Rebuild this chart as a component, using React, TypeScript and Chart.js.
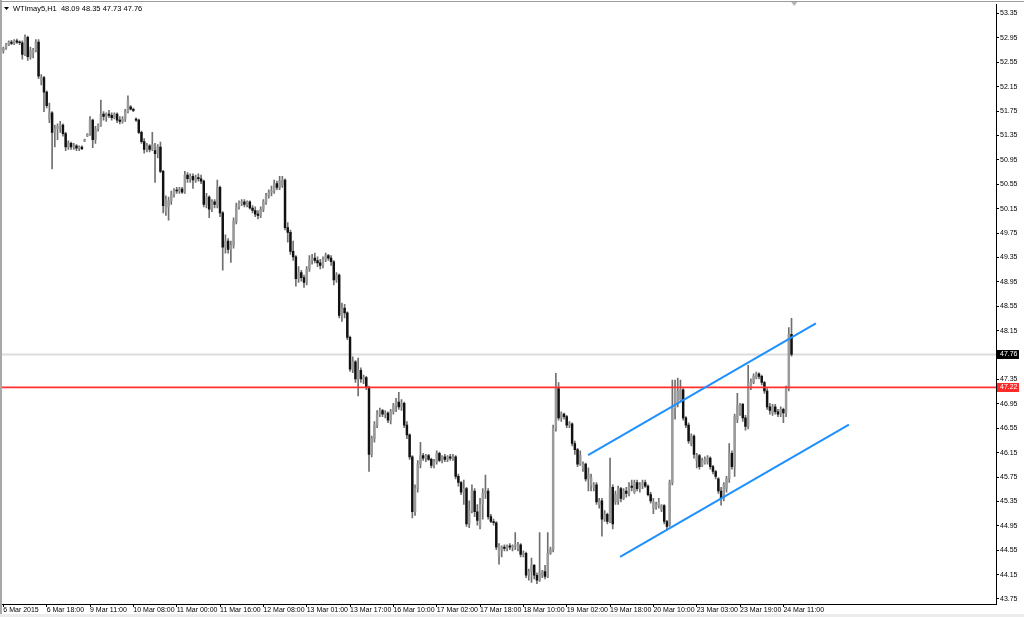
import React, { useEffect, useRef } from "react";
import { Chart, registerables } from "chart.js";

Chart.register(...registerables);

// ---------------- data ----------------
const SYMBOL = "WTImay5,H1";

const TIME_LABELS = [
  "6 Mar 2015", "6 Mar 18:00", "9 Mar 11:00", "10 Mar 08:00", "11 Mar 00:00",
  "11 Mar 16:00", "12 Mar 08:00", "13 Mar 01:00", "13 Mar 17:00", "16 Mar 10:00",
  "17 Mar 02:00", "17 Mar 18:00", "18 Mar 10:00", "19 Mar 02:00", "19 Mar 18:00",
  "20 Mar 10:00", "23 Mar 03:00", "23 Mar 19:00", "24 Mar 11:00",
];
const BARS_PER_LABEL = 16;
const SLOT_COUNT = 367;

const PRICE_TICKS = [
  43.75, 44.15, 44.55, 44.95, 45.35, 45.75, 46.15, 46.55, 46.95, 47.35, 47.75, 48.15, 48.55,
  48.95, 49.35, 49.75, 50.15, 50.55, 50.95, 51.35, 51.75, 52.15, 52.55, 52.95, 53.35,
];
const PRICE_MIN = 43.668;
const PRICE_MAX = 53.497;

const BID_PRICE = 47.76;
const LEVEL_PRICE = 47.22;

const CHANNEL_UPPER = [
  { x: 215.9, y: 46.11 },
  { x: 300.0, y: 48.27 },
];
const CHANNEL_LOWER = [
  { x: 227.7, y: 44.44 },
  { x: 312.2, y: 46.61 },
];

const OPEN = [
  52.74, 52.78, 52.84, 52.88, 52.86, 52.90, 52.88, 52.87, 52.68, 52.96, 52.64, 52.70, 52.75, 52.88, 52.25, 52.30,
  52.06, 51.62, 51.72, 51.40, 51.46, 51.50, 51.52, 51.38, 51.16, 51.22, 51.16, 51.18, 51.14, 51.16, 51.26, 51.34,
  51.37, 51.60, 51.28, 51.46, 51.52, 51.70, 51.66, 51.70, 51.68, 51.64, 51.70, 51.60, 51.58, 51.62, 51.74, 51.82,
  51.78, 51.62, 51.60, 51.40, 51.25, 51.12, 51.18, 51.12, 51.10, 51.05, 51.16, 50.76, 50.10, 50.18, 50.28, 50.38,
  50.45, 50.44, 50.47, 50.42, 50.70, 50.64, 50.68, 50.62, 50.66, 50.64, 50.60, 50.22, 50.34, 50.14, 50.26, 50.20,
  50.50, 50.08, 49.52, 49.62, 49.48, 49.55, 49.94, 50.18, 50.24, 50.26, 50.22, 50.26, 50.16, 50.12, 50.06, 50.04,
  50.14, 50.26, 50.36, 50.42, 50.44, 50.56, 50.50, 50.54, 50.62, 49.84, 49.76, 49.45, 49.36, 49.00, 49.10, 49.02,
  48.94, 49.16, 49.30, 49.34, 49.30, 49.26, 49.22, 49.32, 49.38, 49.34, 49.28, 48.98, 49.06, 48.40, 48.52, 48.44,
  48.04, 47.52, 47.64, 47.36, 47.50, 47.36, 47.38, 47.22, 46.12, 46.38, 46.60, 46.78, 46.84, 46.78, 46.80, 46.68,
  46.82, 46.92, 46.98, 46.90, 46.96, 46.60, 46.44, 46.08, 45.18, 45.56, 45.96, 46.10, 46.06, 46.10, 46.04, 45.94,
  46.00, 46.14, 46.02, 46.08, 46.04, 46.08, 46.06, 46.08, 45.76, 45.66, 45.50, 45.56, 44.98, 45.20, 45.52, 45.18,
  44.94, 45.30, 45.48, 45.52, 45.10, 45.02, 45.00, 44.46, 44.56, 44.60, 44.58, 44.62, 44.60, 44.62, 44.58, 44.64,
  44.48, 44.50, 44.14, 44.20, 44.30, 44.14, 44.06, 44.14, 44.20, 44.12, 44.50, 44.56, 46.55, 47.20, 46.72, 46.78,
  46.74, 46.60, 46.62, 46.30, 46.20, 45.96, 45.90, 45.96, 45.72, 45.62, 45.58, 45.62, 45.30, 45.36, 45.06, 45.14,
  45.02, 45.58, 45.34, 45.36, 45.56, 45.40, 45.52, 45.48, 45.60, 45.50, 45.66, 45.56, 45.62, 45.66, 45.60, 45.46,
  45.24, 45.26, 45.28, 45.22, 45.28, 45.02, 44.96, 45.66, 46.88, 46.96, 47.02, 47.18, 46.72, 46.60, 46.30, 46.42,
  46.02, 46.10, 45.94, 45.98, 46.00, 46.06, 45.92, 45.84, 45.72, 45.52, 45.40, 45.56, 45.72, 46.14, 45.92, 46.70,
  46.80, 46.94, 46.72, 46.58, 47.22, 47.30, 47.38, 47.44, 47.40, 47.30, 47.16, 46.90, 46.80, 46.90, 46.82, 46.78,
  46.86, 46.80, 47.20, 48.09,
];

const HIGH = [
  52.80, 52.86, 52.90, 52.91, 52.92, 52.93, 52.90, 52.90, 53.00, 52.98, 52.80, 52.78, 52.92, 52.92, 52.35, 52.32,
  52.08, 51.88, 51.74, 51.52, 51.54, 51.58, 51.54, 51.40, 51.26, 51.24, 51.22, 51.20, 51.18, 51.18, 51.29, 51.38,
  51.66, 51.62, 51.50, 51.54, 51.93, 51.74, 51.72, 51.76, 51.72, 51.72, 51.72, 51.66, 51.66, 51.78, 52.00, 51.84,
  51.80, 51.64, 51.62, 51.42, 51.30, 51.22, 51.20, 51.40, 51.22, 51.20, 51.24, 50.78, 50.36, 50.34, 50.44, 50.48,
  50.50, 50.50, 50.50, 50.76, 50.74, 50.72, 50.72, 50.70, 50.72, 50.70, 50.62, 50.40, 50.36, 50.30, 50.30, 50.62,
  50.52, 50.10, 49.72, 49.66, 49.62, 50.00, 50.24, 50.28, 50.30, 50.30, 50.28, 50.28, 50.20, 50.18, 50.12, 50.18,
  50.30, 50.40, 50.46, 50.52, 50.62, 50.60, 50.68, 50.68, 50.64, 49.92, 49.80, 49.62, 49.38, 49.20, 49.14, 49.06,
  49.20, 49.38, 49.40, 49.42, 49.36, 49.32, 49.36, 49.42, 49.40, 49.38, 49.30, 49.10, 49.08, 48.60, 48.58, 48.46,
  48.06, 47.72, 47.66, 47.70, 47.54, 47.42, 47.40, 47.24, 46.42, 46.66, 46.84, 46.88, 46.86, 46.84, 46.82, 46.86,
  46.96, 47.04, 47.14, 47.02, 46.98, 46.66, 46.46, 46.10, 45.62, 46.02, 46.32, 46.14, 46.12, 46.12, 46.06, 46.04,
  46.18, 46.16, 46.10, 46.12, 46.10, 46.12, 46.12, 46.10, 45.80, 45.68, 45.70, 45.58, 45.36, 45.62, 45.56, 45.30,
  45.40, 45.56, 45.78, 45.56, 45.14, 45.06, 45.02, 44.66, 44.62, 44.64, 44.64, 44.66, 44.64, 44.84, 44.68, 44.66,
  44.54, 44.52, 44.24, 44.42, 44.32, 44.18, 44.84, 44.22, 44.30, 44.84, 44.60, 46.60, 47.45, 47.30, 46.82, 46.80,
  46.76, 46.66, 46.64, 46.34, 46.22, 46.18, 46.00, 45.98, 45.90, 45.80, 45.66, 45.66, 45.40, 45.40, 45.20, 45.16,
  46.06, 45.62, 45.52, 45.60, 45.58, 45.56, 45.58, 45.66, 45.70, 45.70, 45.70, 45.66, 45.70, 45.70, 45.62, 45.50,
  45.40, 45.34, 45.40, 45.30, 45.30, 45.04, 45.70, 47.34, 47.34, 47.37, 47.34, 47.20, 46.74, 46.64, 46.46, 46.44,
  46.14, 46.12, 46.06, 46.08, 46.10, 46.08, 45.94, 45.86, 45.74, 45.58, 45.66, 45.76, 46.30, 46.18, 46.78, 47.12,
  46.96, 46.96, 46.76, 47.58, 47.36, 47.44, 47.47, 47.46, 47.42, 47.32, 47.20, 46.96, 46.94, 46.94, 46.86, 46.90,
  46.88, 47.24, 48.20, 48.35,
];

const LOW = [
  52.70, 52.76, 52.82, 52.84, 52.84, 52.86, 52.84, 52.60, 52.66, 52.58, 52.60, 52.62, 52.72, 52.28, 52.18, 51.74,
  51.80, 51.56, 50.80, 51.16, 51.28, 51.40, 51.34, 51.10, 51.12, 51.12, 51.12, 51.10, 51.10, 51.12, 51.25, 51.33,
  51.35, 51.15, 51.22, 51.42, 51.50, 51.60, 51.58, 51.64, 51.60, 51.62, 51.56, 51.54, 51.55, 51.58, 51.72, 51.77,
  51.74, 51.58, 51.38, 51.22, 51.06, 51.08, 51.08, 51.10, 50.58, 50.98, 50.74, 50.08, 50.04, 49.96, 50.22, 50.34,
  50.40, 50.40, 50.40, 50.40, 50.58, 50.58, 50.48, 50.58, 50.60, 50.56, 50.18, 50.16, 50.00, 50.10, 50.16, 50.16,
  50.02, 49.14, 49.42, 49.42, 49.27, 49.50, 49.90, 50.14, 50.20, 50.18, 50.18, 50.14, 50.08, 50.02, 49.98, 50.00,
  50.10, 50.22, 50.32, 50.36, 50.40, 50.46, 50.46, 50.50, 49.80, 49.60, 49.40, 49.30, 48.88, 48.94, 48.96, 48.86,
  48.90, 49.12, 49.24, 49.26, 49.20, 49.16, 49.18, 49.28, 49.30, 49.22, 48.90, 48.94, 48.36, 48.30, 48.36, 48.00,
  47.48, 47.46, 47.30, 47.08, 47.30, 47.28, 47.18, 45.84, 46.08, 46.32, 46.56, 46.74, 46.74, 46.72, 46.64, 46.62,
  46.78, 46.82, 46.86, 46.84, 46.56, 46.38, 46.04, 45.08, 45.12, 45.50, 45.90, 46.02, 46.00, 46.02, 45.90, 45.90,
  45.96, 46.00, 45.98, 46.00, 46.00, 46.02, 46.02, 45.72, 45.60, 45.46, 45.30, 44.94, 44.92, 45.16, 45.10, 44.96,
  44.90, 45.06, 45.40, 45.06, 45.00, 44.96, 44.56, 44.32, 44.44, 44.54, 44.54, 44.56, 44.54, 44.56, 44.54, 44.44,
  44.44, 44.10, 44.06, 44.02, 44.08, 44.00, 44.04, 44.10, 44.08, 44.10, 44.48, 44.52, 46.50, 46.68, 46.66, 46.70,
  46.56, 46.56, 46.26, 46.12, 45.92, 45.94, 45.84, 45.68, 45.52, 45.52, 45.52, 45.30, 45.24, 44.78, 45.02, 44.98,
  45.00, 44.90, 45.30, 45.30, 45.34, 45.38, 45.42, 45.44, 45.52, 45.48, 45.52, 45.50, 45.56, 45.58, 45.44, 45.32,
  45.15, 45.22, 45.24, 45.18, 44.98, 44.88, 44.94, 45.62, 46.70, 46.90, 46.98, 46.68, 46.56, 46.30, 46.26, 46.06,
  45.90, 45.88, 45.92, 45.96, 45.96, 45.88, 45.80, 45.72, 45.48, 45.29, 45.36, 45.50, 45.66, 45.88, 45.76, 46.64,
  46.76, 46.66, 46.52, 46.54, 47.18, 47.28, 47.36, 47.36, 47.26, 47.12, 46.86, 46.78, 46.76, 46.78, 46.74, 46.74,
  46.64, 46.74, 47.16, 47.73,
];

const CLOSE = [
  52.78, 52.84, 52.88, 52.86, 52.90, 52.88, 52.87, 52.68, 52.96, 52.64, 52.74, 52.75, 52.88, 52.32, 52.30, 52.06,
  51.84, 51.72, 51.40, 51.46, 51.50, 51.52, 51.38, 51.16, 51.22, 51.16, 51.18, 51.14, 51.16, 51.13, 51.28, 51.37,
  51.60, 51.28, 51.46, 51.52, 51.70, 51.66, 51.70, 51.68, 51.64, 51.70, 51.60, 51.58, 51.62, 51.74, 51.94, 51.78,
  51.76, 51.60, 51.40, 51.25, 51.12, 51.18, 51.12, 51.20, 51.05, 51.16, 50.76, 50.20, 50.30, 50.28, 50.38, 50.45,
  50.44, 50.47, 50.42, 50.70, 50.64, 50.68, 50.62, 50.66, 50.64, 50.60, 50.22, 50.34, 50.14, 50.26, 50.22, 50.50,
  50.08, 49.52, 49.62, 49.48, 49.55, 49.94, 50.18, 50.24, 50.26, 50.22, 50.26, 50.16, 50.12, 50.06, 50.04, 50.14,
  50.26, 50.36, 50.42, 50.44, 50.56, 50.50, 50.60, 50.62, 49.84, 49.76, 49.45, 49.36, 49.00, 49.10, 49.02, 48.94,
  49.16, 49.30, 49.34, 49.30, 49.26, 49.22, 49.32, 49.38, 49.34, 49.28, 48.98, 49.06, 48.40, 48.52, 48.44, 48.04,
  47.52, 47.64, 47.36, 47.50, 47.36, 47.38, 47.22, 46.12, 46.38, 46.60, 46.78, 46.84, 46.78, 46.80, 46.68, 46.82,
  46.92, 46.98, 46.90, 46.96, 46.60, 46.44, 46.08, 45.18, 45.56, 45.96, 46.10, 46.06, 46.10, 46.04, 45.94, 46.00,
  46.14, 46.02, 46.08, 46.04, 46.08, 46.06, 46.08, 45.76, 45.66, 45.50, 45.56, 44.98, 45.20, 45.52, 45.18, 45.04,
  45.30, 45.48, 45.52, 45.10, 45.02, 45.00, 44.60, 44.62, 44.60, 44.58, 44.62, 44.60, 44.62, 44.64, 44.64, 44.48,
  44.50, 44.14, 44.20, 44.30, 44.14, 44.06, 44.18, 44.20, 44.12, 44.50, 44.56, 46.55, 47.20, 46.72, 46.78, 46.74,
  46.60, 46.62, 46.30, 46.20, 45.96, 46.10, 45.96, 45.72, 45.80, 45.74, 45.62, 45.34, 45.36, 45.06, 45.14, 45.02,
  45.58, 44.98, 45.46, 45.56, 45.40, 45.52, 45.48, 45.60, 45.58, 45.66, 45.56, 45.62, 45.66, 45.60, 45.46, 45.36,
  45.34, 45.30, 45.34, 45.28, 45.02, 44.94, 45.66, 46.88, 47.20, 47.16, 47.18, 46.72, 46.60, 46.34, 46.42, 46.12,
  46.10, 45.92, 46.02, 46.04, 46.06, 45.92, 45.84, 45.76, 45.52, 45.40, 45.62, 45.72, 46.14, 45.92, 46.74, 46.92,
  46.92, 46.72, 46.58, 47.30, 47.32, 47.40, 47.44, 47.40, 47.30, 47.16, 46.90, 46.84, 46.90, 46.82, 46.78, 46.86,
  46.80, 47.20, 48.09, 47.76,
];

// ---------------- styling ----------------
const FONT = "'Liberation Sans Narrow', 'Liberation Sans', 'DejaVu Sans', sans-serif";
const BULL_COLOR = "#9a9a9a";
const BEAR_COLOR = "#111111";
const WICK_COLOR = "#707070";

const SLOT_LABELS = Array.from({ length: SLOT_COUNT }, (_, i) =>
  i % BARS_PER_LABEL === 0 && i / BARS_PER_LABEL < TIME_LABELS.length
    ? TIME_LABELS[i / BARS_PER_LABEL]
    : ""
);

const overlayPlugin = {
  id: "mt4Overlay",
  afterDraw(chart: any) {
    const { ctx, chartArea, scales } = chart;
    const yS = scales.y;
    const xS = scales.x;
    ctx.save();

    // window frame
    ctx.fillStyle = "#a8a8a8";
    ctx.fillRect(0, 0, 2, chart.height);
    ctx.fillStyle = "#9c9c9c";
    ctx.fillRect(0, 1, chart.width, 1);
    ctx.fillStyle = "#ececec";
    ctx.fillRect(0, chart.height - 3, chart.width, 3);

    // price tags on the axis
    const tag = (price: number, bg: string) => {
      const py = yS.getPixelForValue(price);
      ctx.fillStyle = bg;
      ctx.fillRect(chartArea.right + 1, Math.round(py) - 4, 22, 9);
      ctx.fillStyle = "#ffffff";
      ctx.font = `7px ${FONT}`;
      ctx.textBaseline = "middle";
      ctx.textAlign = "left";
      ctx.fillText(price.toFixed(2), chartArea.right + 4, Math.round(py) + 0.5);
    };
    tag(BID_PRICE, "#000000");
    tag(LEVEL_PRICE, "#ff2b2b");

    // title
    const last = CLOSE.length - 1;
    ctx.fillStyle = "#000000";
    ctx.beginPath();
    ctx.moveTo(4, 7);
    ctx.lineTo(9, 7);
    ctx.lineTo(6.5, 10);
    ctx.closePath();
    ctx.fill();
    ctx.font = `7.5px ${FONT}`;
    ctx.textBaseline = "middle";
    ctx.textAlign = "left";
    const title = `${SYMBOL}  ${OPEN[last].toFixed(2)} ${HIGH[last].toFixed(2)} ${LOW[last].toFixed(2)} ${CLOSE[last].toFixed(2)}`;
    ctx.fillText(title, 13, 8.5);

    // chart shift marker
    const sx = xS.getPixelForValue(CLOSE.length);
    ctx.fillStyle = "#b4b4b4";
    ctx.beginPath();
    ctx.moveTo(sx - 3, 2);
    ctx.lineTo(sx + 3, 2);
    ctx.lineTo(sx, 6);
    ctx.closePath();
    ctx.fill();

    ctx.restore();
  },
};

export default function App() {
  const ref = useRef<HTMLCanvasElement | null>(null);

  useEffect(() => {
    document.body.style.margin = "0";
    document.body.style.overflow = "hidden";
    const canvas = ref.current;
    if (!canvas) return;

    const bodies = OPEN.map((o, i) => [o, CLOSE[i]]);
    const wicks = LOW.map((l, i) => [l, HIGH[i]]);
    const bodyColors = OPEN.map((o, i) => (CLOSE[i] >= o ? BULL_COLOR : BEAR_COLOR));

    const chart = new Chart(canvas, {
      type: "bar",
      data: {
        labels: SLOT_LABELS,
        datasets: [
          {
            type: "line",
            data: CHANNEL_UPPER,
            xAxisID: "x2",
            borderColor: "#1e90ff",
            borderWidth: 2,
            pointRadius: 0,
            order: 0,
          },
          {
            type: "line",
            data: CHANNEL_LOWER,
            xAxisID: "x2",
            borderColor: "#1e90ff",
            borderWidth: 2,
            pointRadius: 0,
            order: 0,
          },
          {
            type: "line",
            data: [
              { x: -0.5, y: LEVEL_PRICE },
              { x: SLOT_COUNT - 0.5, y: LEVEL_PRICE },
            ],
            xAxisID: "x2",
            borderColor: "#ff3030",
            borderWidth: 1.8,
            pointRadius: 0,
            order: 0,
          },
          {
            type: "bar",
            data: bodies,
            backgroundColor: bodyColors,
            borderWidth: 0,
            barThickness: 1.8,
            minBarLength: 1,
            grouped: false,
            order: 1,
          },
          {
            type: "bar",
            data: wicks,
            backgroundColor: WICK_COLOR,
            borderWidth: 0,
            barThickness: 1,
            minBarLength: 1,
            grouped: false,
            order: 2,
          },
          {
            type: "line",
            data: [
              { x: -0.5, y: BID_PRICE },
              { x: SLOT_COUNT - 0.5, y: BID_PRICE },
            ],
            xAxisID: "x2",
            borderColor: "#dcdcdc",
            borderWidth: 2,
            pointRadius: 0,
            order: 3,
          },
        ] as any,
      },
      options: {
        responsive: false,
        animation: false,
        events: [],
        layout: { padding: { left: 2, top: 4, right: 0, bottom: 0 } },
        plugins: { legend: { display: false }, tooltip: { enabled: false } },
        scales: {
          x: {
            type: "category",
            offset: true,
            afterBuildTicks: (s: any) => {
              s.ticks = s.ticks.filter((t: any) => SLOT_LABELS[t.value] !== "");
            },
            afterFit: (s: any) => {
              s.height = 13;
            },
            grid: {
              display: true,
              drawOnChartArea: false,
              drawTicks: true,
              tickLength: 3,
              tickColor: "#000",
              offset: false,
            },
            border: { display: true, color: "#000", width: 1 },
            ticks: {
              autoSkip: false,
              maxRotation: 0,
              minRotation: 0,
              align: "start",
              padding: 0,
              color: "#000",
              font: { family: FONT, size: 7, lineHeight: 1 },
              callback: (v: any) => SLOT_LABELS[v],
            },
          },
          x2: {
            type: "linear",
            display: false,
            min: -0.5,
            max: SLOT_COUNT - 0.5,
            offset: false,
          },
          y: {
            type: "linear",
            position: "right",
            min: PRICE_MIN,
            max: PRICE_MAX,
            afterBuildTicks: (s: any) => {
              s.ticks = PRICE_TICKS.map((v) => ({ value: v }));
            },
            afterFit: (s: any) => {
              s.width = 28;
            },
            grid: {
              display: true,
              drawOnChartArea: false,
              drawTicks: true,
              tickLength: 3,
              tickColor: "#000",
            },
            border: { display: true, color: "#000", width: 1 },
            ticks: {
              autoSkip: false,
              padding: 1,
              color: "#000",
              font: { family: FONT, size: 7, lineHeight: 1 },
              callback: (v: any) => Number(v).toFixed(2),
            },
          },
        },
      } as any,
      plugins: [overlayPlugin],
    });

    return () => chart.destroy();
  }, []);

  return (
    <div style={{ width: 1024, height: 617, overflow: "hidden", background: "#fff" }}>
      <canvas ref={ref} width={1024} height={617} style={{ display: "block" }} />
    </div>
  );
}
